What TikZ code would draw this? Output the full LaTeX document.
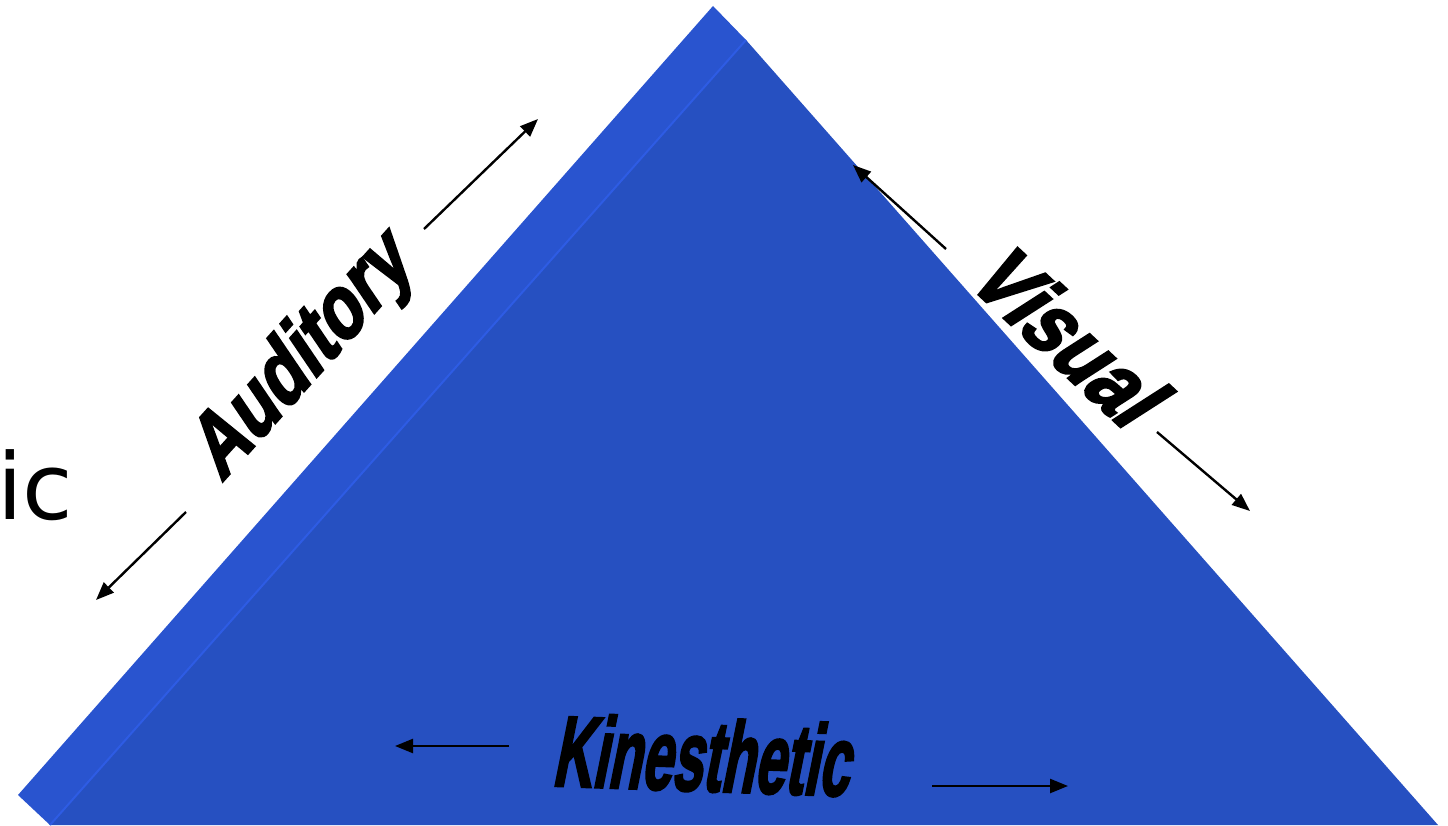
\documentclass[tikz,border=0pt]{standalone}
\usepackage{fontspec}
\setmainfont{Liberation Sans}
\newfontfamily\kfont[FakeSlant=0.3,FakeBold=3]{Liberation Sans Bold}
\newfontfamily\icfont{DejaVu Sans}
\usetikzlibrary{arrows.meta}
\definecolor{faceL}{RGB}{41,84,207}
\definecolor{faceF}{RGB}{38,80,193}
\definecolor{ridge}{RGB}{46,92,228}
\tikzset{
  arr/.style={line width=2.4pt, -{Triangle[length=18pt,width=14pt]}},
  lbl/.style={inner sep=0pt, text=black},
}
\begin{document}
\begin{tikzpicture}[x=1pt,y=-1pt]
\useasboundingbox (0,0) rectangle (1448,826);
% faces
\coordinate (apex) at (713,6);
\coordinate (top) at (746,40);
\coordinate (bl) at (18,795);
\coordinate (bb) at (50,825);
\coordinate (br) at (1438,825);
\fill[faceL] (apex) -- (top) -- (bb) -- (bl) -- cycle;
\fill[faceF] (top) -- (br) -- (bb) -- cycle;
\draw[ridge, line width=2pt] (top) -- (bb);
% labels
\node[lbl, rotate=48] (aud) at (302,360) {\scalebox{0.82}[1]{\fontsize{86}{90}\selectfont\kfont Auditory}};
\node[lbl, rotate=-43] (vis) at (1066,333) {\scalebox{0.85}[1]{\fontsize{88}{90}\selectfont\kfont Visual}};
\node[lbl, rotate=-2] (kin) at (701,755) {\scalebox{0.55}[1]{\fontsize{100}{100}\selectfont\kfont Kinesthetic}};
\node[lbl, anchor=base west] (ic) at (-3,519) {\fontsize{92}{96}\selectfont\icfont ic};
% arrows
\coordinate (a1s) at (424,229); \coordinate (a1e) at (538,119);
\coordinate (a2s) at (186,512); \coordinate (a2e) at (96,600);
\coordinate (v1s) at (946,249); \coordinate (v1e) at (853,165);
\coordinate (v2s) at (1157,432); \coordinate (v2e) at (1250,511);
\coordinate (k1s) at (509,746); \coordinate (k1e) at (395,746);
\coordinate (k2s) at (932,786); \coordinate (k2e) at (1068,786);
\draw[arr] (a1s) -- (a1e);
\draw[arr] (a2s) -- (a2e);
\draw[arr] (v1s) -- (v1e);
\draw[arr] (v2s) -- (v2e);
\draw[arr] (k1s) -- (k1e);
\draw[arr] (k2s) -- (k2e);
\end{tikzpicture}
\end{document}
